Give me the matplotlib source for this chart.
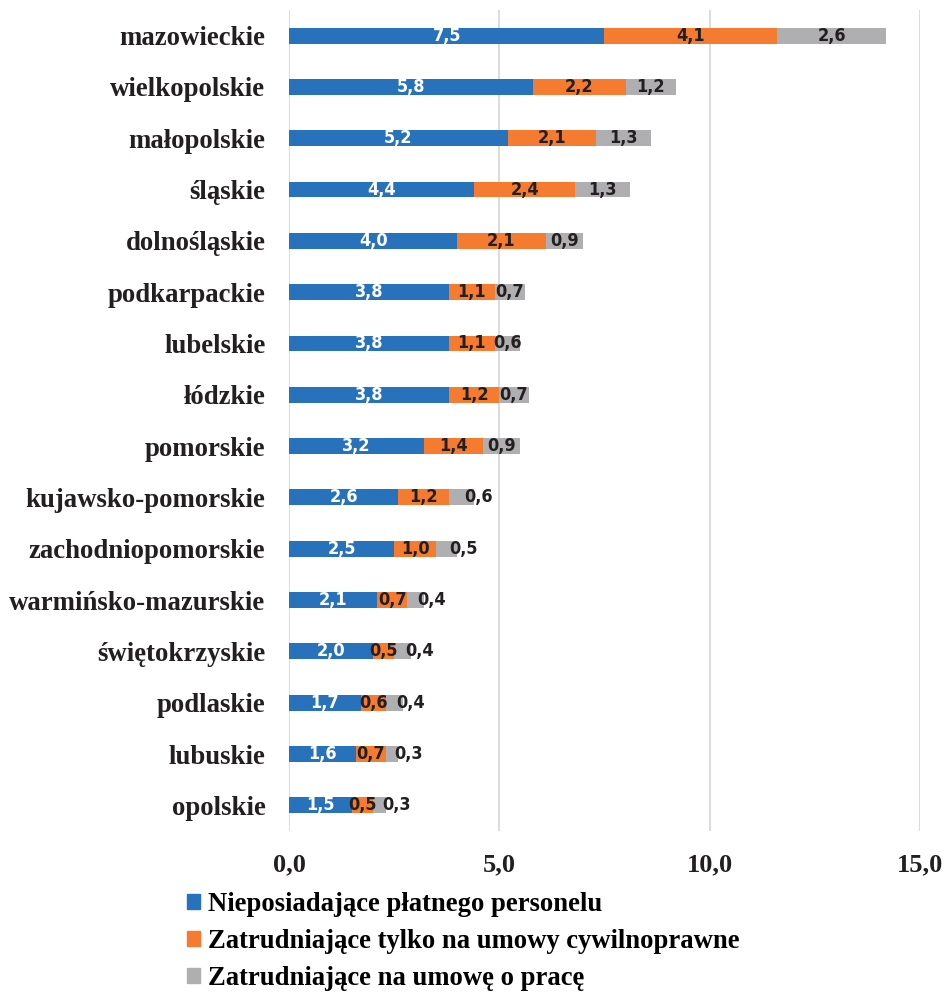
import matplotlib.pyplot as plt
import numpy as np
from matplotlib.patches import Patch

# ==========================
# Data
# ==========================
regions = ["mazowieckie", "wielkopolskie", "małopolskie", "śląskie", "dolnośląskie",
           "podkarpackie", "lubelskie", "łódzkie", "pomorskie", "kujawsko-pomorskie",
           "zachodniopomorskie", "warmińsko-mazurskie", "świętokrzyskie", "podlaskie",
           "lubuskie", "opolskie"]
no_staff = [7.5, 5.8, 5.2, 4.4, 4.0, 3.8, 3.8, 3.8, 3.2, 2.6, 2.5, 2.1, 2.0, 1.7, 1.6, 1.5]
civil_only = [4.1, 2.2, 2.1, 2.4, 2.1, 1.1, 1.1, 1.2, 1.4, 1.2, 1.0, 0.7, 0.5, 0.6, 0.7, 0.5]
contract = [2.6, 1.2, 1.3, 1.3, 0.9, 0.7, 0.6, 0.7, 0.9, 0.6, 0.5, 0.4, 0.4, 0.4, 0.3, 0.3]
series_names = ["Nieposiadające płatnego personelu",
                "Zatrudniające tylko na umowy cywilnoprawne",
                "Zatrudniające na umowę o pracę"]
xticks = [0, 5, 10, 15]

colors = ["#2872BC", "#F47B30", "#AFAFB2"]
label_colors = ["white", "#231F20", "#231F20"]
serif = "Liberation Serif"

# ==========================
# Draw
# ==========================
fig = plt.figure(figsize=(9.46, 9.94), dpi=100)
ax = fig.add_axes([0.3055, 0.164, 0.667, 0.826])

y = np.arange(len(regions))
left = np.zeros(len(regions))
for i, vals in enumerate([no_staff, civil_only, contract]):
    vals = np.array(vals)
    ax.barh(y, vals, left=left, height=0.31, color=colors[i], zorder=2)
    for j, v in enumerate(vals):
        cx = left[j] + v / 2
        # small grey segments in the lower rows have their label pushed right
        if i == 2 and left[j] + v < 4.5:
            cx += 0.4
        ax.text(cx, y[j], f"{v:.1f}".replace(".", ","), ha="center", va="center",
                color=label_colors[i], fontsize=13, fontweight="bold",
                family="DejaVu Sans", fontstretch="condensed", zorder=3)
    left += vals

ax.set_ylim(len(regions) - 0.5, -0.5)
ax.set_xlim(0, 15)
ax.set_yticks(y)
ax.set_yticklabels(regions, family=serif, fontweight="bold", fontsize=19.3, color="#231F20")
ax.set_xticks(xticks)
ax.set_xticklabels([f"{t:.1f}".replace(".", ",") for t in xticks],
                   family=serif, fontweight="bold", fontsize=19, color="#231F20")
ax.tick_params(length=0, axis="y", pad=17)
ax.tick_params(length=0, axis="x", pad=16)
ax.grid(axis="x", color="#D9D9D9", linewidth=1.3, zorder=0)
for s in ax.spines.values():
    s.set_visible(False)

handles = [Patch(color=c) for c in colors]
fig.legend(handles, series_names, loc="upper left", bbox_to_anchor=(0.186, 0.113),
           frameon=False, ncol=1, handlelength=0.5, handleheight=0.5,
           handletextpad=0.3, labelspacing=0.45, borderaxespad=0,
           prop={"family": serif, "weight": "bold", "size": 19.2})

fig.savefig("out.png", dpi=100)
